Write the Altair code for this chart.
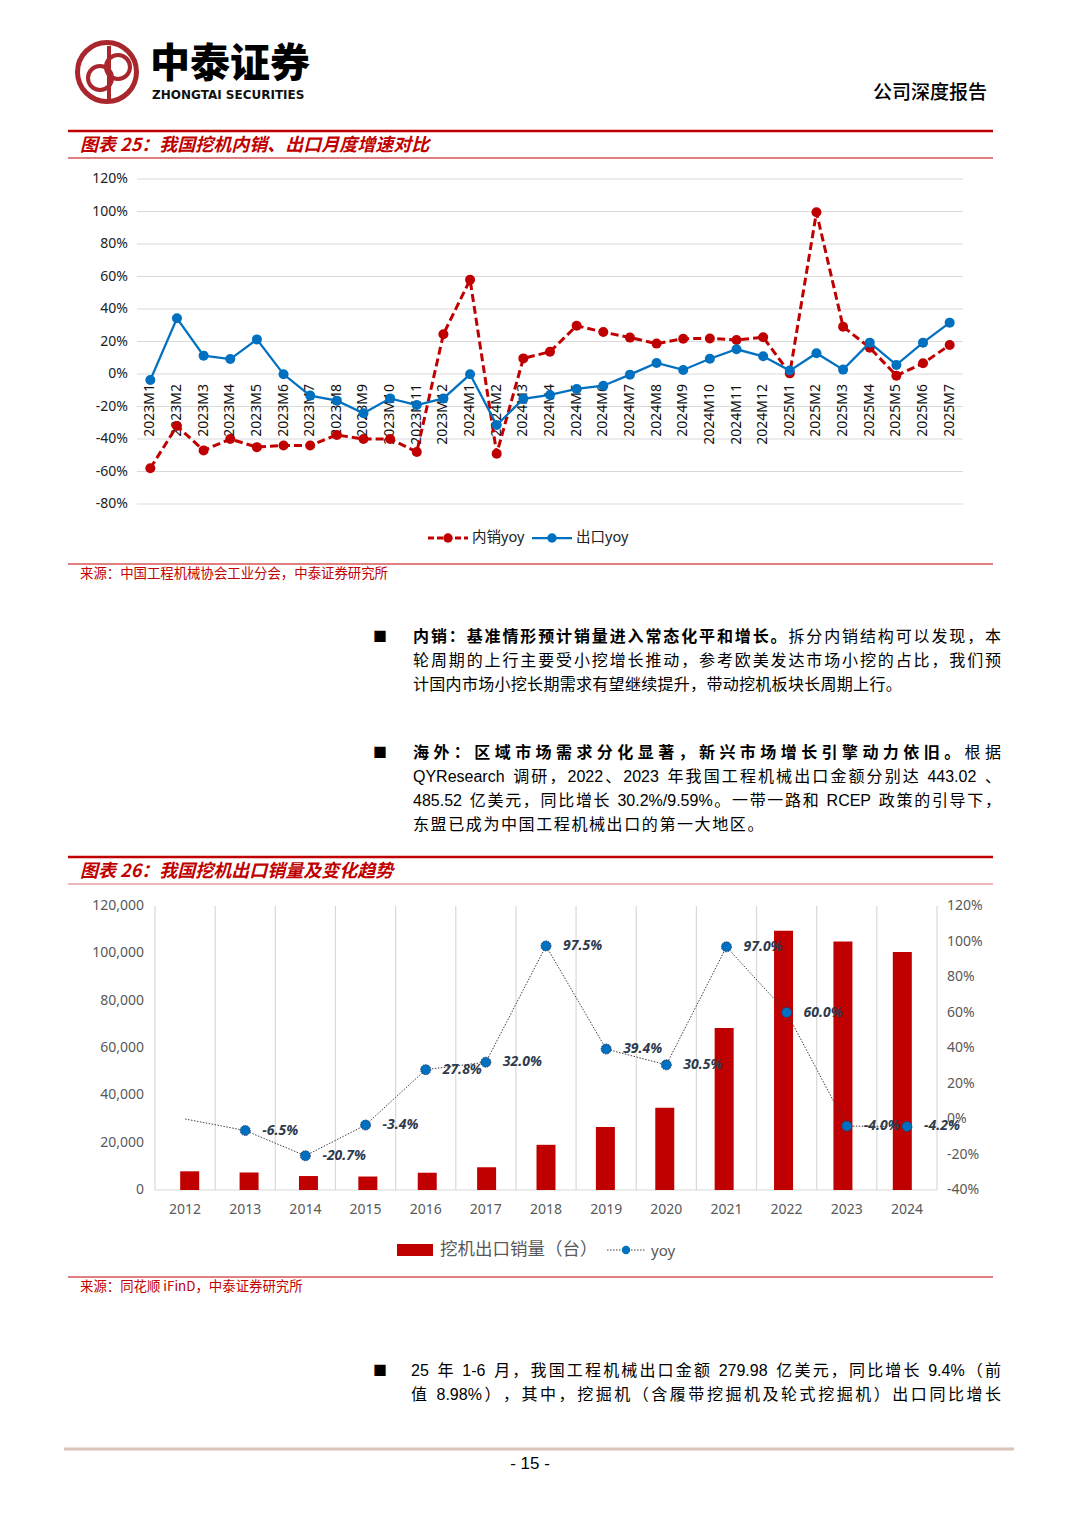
import altair as alt
import pandas as pd

OFF = 8


def p(v):
    return v - OFF


# ---------------- data ----------------
months = ["2023M1", "2023M2", "2023M3", "2023M4", "2023M5", "2023M6", "2023M7", "2023M8",
          "2023M9", "2023M10", "2023M11", "2023M12", "2024M1", "2024M2", "2024M3", "2024M4",
          "2024M5", "2024M6", "2024M7", "2024M8", "2024M9", "2024M10", "2024M11", "2024M12",
          "2025M1", "2025M2", "2025M3", "2025M4", "2025M5", "2025M6", "2025M7"]
domestic_yoy = [-58.0, -32.0, -47.0, -40.0, -45.0, -44.0, -44.0, -37.5, -40.0, -40.0, -48.0, 24.5,
                58.0, -49.0, 9.6, 13.7, 29.7, 25.8, 22.4, 18.7, 21.7, 21.9, 20.9, 22.6,
                0.4, 99.5, 29.1, 16.2, -1.0, 6.6, 17.8]
export_yoy = [-3.7, 34.3, 11.3, 9.2, 21.3, -0.2, -13.3, -16.4, -24.2, -15.0, -19.1, -15.0,
              -0.2, -31.4, -15.3, -12.9, -9.2, -7.2, -0.4, 6.8, 2.5, 9.4, 15.2, 10.9,
              2.1, 12.8, 2.7, 19.3, 5.6, 19.3, 31.6]
y1_ticks = [-80, -60, -40, -20, 0, 20, 40, 60, 80, 100, 120]

years = ["2012", "2013", "2014", "2015", "2016", "2017", "2018", "2019", "2020", "2021", "2022", "2023", "2024"]
export_units = [7900, 7400, 5900, 5700, 7300, 9600, 19100, 26600, 34800, 68500, 109500, 105000, 100600]
export_growth = [0.0, -6.5, -20.7, -3.4, 27.8, 32.0, 97.5, 39.4, 30.5, 97.0, 60.0, -4.0, -4.2]
y2_left_ticks = [0, 20000, 40000, 60000, 80000, 100000, 120000]
y2_right_ticks = [-40, -20, 0, 20, 40, 60, 80, 100, 120]

# ---------------- styles ----------------
RED = "#c00000"
BLUE = "#0070c0"
CJK = "Noto Sans CJK SC"
BODY_FONT = "Liberation Sans, Noto Sans CJK SC"
CHART_FONT = "Noto Sans, Noto Sans CJK SC"

one = pd.DataFrame({"k": [0]})
layers = []


def hline(x0, x1, y, color, width, dash=None):
    kw = dict(color=color, strokeWidth=width)
    if dash:
        kw["strokeDash"] = dash
    return alt.Chart(one).mark_rule(**kw).encode(
        x=alt.value(p(x0)), x2=alt.value(p(x1)), y=alt.value(p(y)))


def label(txt, x, y, size, color="#000000", font=CJK, weight="normal", italic=False,
          align="left", baseline="middle"):
    kw = dict(text=txt, fontSize=size, color=color, font=font, fontWeight=weight,
              align=align, baseline=baseline)
    if italic:
        kw["fontStyle"] = "italic"
    return alt.Chart(one).mark_text(**kw).encode(x=alt.value(p(x)), y=alt.value(p(y)))


def dot(x, y, color, size, filled=True, stroke_w=1.0):
    if filled:
        return alt.Chart(one).mark_circle(color=color, size=size, opacity=1).encode(
            x=alt.value(p(x)), y=alt.value(p(y)))
    return alt.Chart(one).mark_point(shape="circle", filled=False, color=color, size=size,
                                     strokeWidth=stroke_w, opacity=1).encode(
        x=alt.value(p(x)), y=alt.value(p(y)))


# ---------------- header ----------------
LOGO = "#a8262c"
layers.append(dot(107, 72, LOGO, 59 * 59, filled=False, stroke_w=5))
layers.append(dot(118, 67, LOGO, 24 * 24, filled=False, stroke_w=4))
layers.append(dot(100, 78, LOGO, 24 * 24, filled=False, stroke_w=4))
layers.append(alt.Chart(one).mark_rule(color=LOGO, strokeWidth=4).encode(
    x=alt.value(p(109)), y=alt.value(p(46)), y2=alt.value(p(100))))
layers.append(label("中泰证券", 150, 65, 40, "#000000", CJK, 900))
layers.append(label("ZHONGTAI SECURITIES", 152, 94.5, 12, "#111111", "DejaVu Sans", "bold"))
layers.append(label("公司深度报告", 873, 93, 19, "#000000", CJK, 500))

# section 1 title
layers.append(hline(68, 993, 131, RED, 2.5))
layers.append(label("图表 25：我国挖机内销、出口月度增速对比", 80, 146, 18, RED, CJK, "bold", True))
layers.append(hline(68, 993, 158, RED, 1))

# ---------------- chart 1 ----------------
X1 = alt.Scale(domain=[-0.5, 30.5], range=[p(137), p(963)])
Y1 = alt.Scale(domain=[-80, 120], range=[p(504), p(179)])
df1 = pd.DataFrame({"idx": list(range(len(months))), "m": months,
                    "dom": domestic_yoy, "exp": export_yoy})
dft1 = pd.DataFrame({"v": y1_ticks, "t": [f"{v}%" for v in y1_ticks]})

layers.append(alt.Chart(dft1).mark_rule(color="#d9d9d9", strokeWidth=1).encode(
    y=alt.Y("v:Q", scale=Y1, axis=None), x=alt.value(p(137)), x2=alt.value(p(963))))
layers.append(alt.Chart(dft1).mark_text(align="right", baseline="middle", fontSize=14,
                                        font=CHART_FONT, color="#222222").encode(
    y=alt.Y("v:Q", scale=Y1, axis=None), x=alt.value(p(128)), text="t:N"))
layers.append(alt.Chart(df1).mark_text(angle=270, align="right", baseline="middle", fontSize=14,
                                       font=CHART_FONT, color="#111111").encode(
    x=alt.X("idx:Q", scale=X1, axis=None), y=alt.value(p(384)), text="m:N"))
layers.append(alt.Chart(df1).mark_line(color=RED, strokeWidth=3, strokeDash=[8, 4]).encode(
    x=alt.X("idx:Q", scale=X1, axis=None), y=alt.Y("dom:Q", scale=Y1, axis=None)))
layers.append(alt.Chart(df1).mark_circle(color=RED, size=100, opacity=1).encode(
    x=alt.X("idx:Q", scale=X1, axis=None), y=alt.Y("dom:Q", scale=Y1, axis=None)))
layers.append(alt.Chart(df1).mark_line(color=BLUE, strokeWidth=2.25).encode(
    x=alt.X("idx:Q", scale=X1, axis=None), y=alt.Y("exp:Q", scale=Y1, axis=None)))
layers.append(alt.Chart(df1).mark_circle(color=BLUE, size=100, opacity=1).encode(
    x=alt.X("idx:Q", scale=X1, axis=None), y=alt.Y("exp:Q", scale=Y1, axis=None)))

# legend 1
layers.append(hline(428, 468, 538, RED, 3, [6, 3]))
layers.append(dot(448, 538, RED, 90))
layers.append(label("内销yoy", 472, 538, 14.5, "#222222", CHART_FONT))
layers.append(hline(532, 572, 538, BLUE, 2.25))
layers.append(dot(552, 538, BLUE, 90))
layers.append(label("出口yoy", 576, 538, 14.5, "#222222", CHART_FONT))

# source 1
layers.append(hline(68, 993, 564, RED, 1))
layers.append(label("来源：中国工程机械协会工业分会，中泰证券研究所", 80, 574, 13.4, RED, CJK))

# ---------------- body text ----------------
ARIAL = {" ": 0.278, ".": 0.278, ",": 0.278, "%": 0.889, "/": 0.278, "-": 0.333,
         "Q": 0.778, "Y": 0.667, "R": 0.722, "e": 0.556, "s": 0.5, "a": 0.556, "r": 0.333,
         "c": 0.5, "h": 0.556, "C": 0.722, "E": 0.667, "P": 0.667}


def cw(ch, size):
    if ord(ch) > 0x2E80:
        return size
    return ARIAL.get(ch, 0.556) * size


def tokens(segs):
    out = []
    for text, bold in segs:
        run = ""
        for ch in text:
            if ord(ch) > 0x2E80 or ch == " ":
                if run:
                    out.append((run, bold))
                    run = ""
                out.append((ch, bold))
            else:
                run += ch
        if run:
            out.append((run, bold))
    return out


def layout(segs, x0, y, x1=None, extra=0.0, size=16):
    toks = tokens(segs)
    widths = [sum(cw(c, size) for c in t) for t, _ in toks]
    if x1 is not None and len(toks) > 1:
        extra = (x1 - x0 - sum(widths)) / (len(toks) - 1)
    rows = []
    x = x0
    for (t, b), w in zip(toks, widths):
        if t.strip():
            rows.append({"x": p(x), "y": p(y), "t": t, "b": b})
        x += w + extra
    return rows


body = []
body += layout([("内销：基准情形预计销量进入常态化平和增长。", True), ("拆分内销结构可以发现，本", False)], 413, 637, 1001)
body += layout([("轮周期的上行主要受小挖增长推动，参考欧美发达市场小挖的占比，我们预", False)], 413, 661, 1001)
body += layout([("计国内市场小挖长期需求有望继续提升，带动挖机板块长周期上行。", False)], 413, 685, None, 0.3)
body += layout([("海外：区域市场需求分化显著，新兴市场增长引擎动力依旧。", True), ("根据", False)], 413, 753, 1001)
body += layout([("QYResearch 调研，2022、2023 年我国工程机械出口金额分别达 443.02 、", False)], 413, 777, 1001)
body += layout([("485.52 亿美元，同比增长 30.2%/9.59%。一带一路和 RCEP 政策的引导下，", False)], 413, 801, 1001)
body += layout([("东盟已成为中国工程机械出口的第一大地区。", False)], 413, 825, None, 1.6)
body += layout([("25 年 1-6 月，我国工程机械出口金额 279.98 亿美元，同比增长 9.4%（前", False)], 411, 1371, 1001)
body += layout([("值 8.98%），其中，挖掘机（含履带挖掘机及轮式挖掘机）出口同比增长", False)], 411, 1395, 1001)
body_df = pd.DataFrame(body)

for is_bold in (False, True):
    sub = body_df[body_df["b"] == is_bold]
    layers.append(alt.Chart(sub).mark_text(align="left", baseline="middle", fontSize=16,
                                           font=BODY_FONT, color="#000000",
                                           fontWeight="bold" if is_bold else "normal").encode(
        x=alt.X("x:Q", scale=None, axis=None), y=alt.Y("y:Q", scale=None, axis=None), text="t:N"))

for by in (637, 753, 1371):
    layers.append(label("■", 380, by, 14, "#000000", CJK, align="center"))

# section 2 title
layers.append(hline(68, 993, 857, RED, 2.5))
layers.append(label("图表 26：我国挖机出口销量及变化趋势", 80, 872, 18, RED, CJK, "bold", True))
layers.append(hline(68, 993, 884, "#e07070", 1))

# ---------------- chart 2 ----------------
X2 = alt.Scale(domain=[-0.5, 12.5], range=[p(155), p(937)])
YL = alt.Scale(domain=[0, 120000], range=[p(1190), p(906)])
YR = alt.Scale(domain=[-40, 120], range=[p(1190), p(906)])
df2 = pd.DataFrame({"idx": list(range(len(years))), "year": years, "units": export_units,
                    "g": export_growth, "lab": [f"{v:.1f}%" for v in export_growth]})
bounds = pd.DataFrame({"b": [i - 0.5 for i in range(len(years) + 1)]})
dfl = pd.DataFrame({"v": y2_left_ticks, "t": [f"{v:,}" for v in y2_left_ticks]})
dfr = pd.DataFrame({"v": y2_right_ticks, "t": [f"{v}%" for v in y2_right_ticks]})
GRAY = "#595959"

layers.append(alt.Chart(bounds).mark_rule(color="#d9d9d9", strokeWidth=1.2).encode(
    x=alt.X("b:Q", scale=X2, axis=None), y=alt.value(p(906)), y2=alt.value(p(1190))))
layers.append(hline(155, 937, 1190, "#d9d9d9", 1.2))
layers.append(alt.Chart(dfl).mark_text(align="right", baseline="middle", fontSize=14,
                                       font=CHART_FONT, color=GRAY).encode(
    y=alt.Y("v:Q", scale=YL, axis=None), x=alt.value(p(144)), text="t:N"))
layers.append(alt.Chart(dfr).mark_text(align="left", baseline="middle", fontSize=14,
                                       font=CHART_FONT, color=GRAY).encode(
    y=alt.Y("v:Q", scale=YR, axis=None), x=alt.value(p(947)), text="t:N"))
layers.append(alt.Chart(df2).mark_text(align="center", baseline="middle", fontSize=14,
                                       font=CHART_FONT, color=GRAY).encode(
    x=alt.X("idx:Q", scale=X2, axis=None), y=alt.value(p(1210)), text="year:N"))
layers.append(alt.Chart(df2).mark_bar(color=RED, size=19, orient="vertical").encode(
    x=alt.X("idx:Q", scale=X2, axis=None), y=alt.Y("units:Q", scale=YL, axis=None),
    y2=alt.datum(0)))
layers.append(alt.Chart(df2).mark_line(color="#404040", strokeWidth=1, strokeDash=[1.5, 1.5]).encode(
    x=alt.X("idx:Q", scale=X2, axis=None), y=alt.Y("g:Q", scale=YR, axis=None)))
layers.append(alt.Chart(df2).transform_filter("datum.idx > 0").mark_point(
    shape="circle", filled=True, color=BLUE, stroke="#203864", strokeWidth=1,
    strokeDash=[1.5, 1], size=100, opacity=1).encode(
    x=alt.X("idx:Q", scale=X2, axis=None), y=alt.Y("g:Q", scale=YR, axis=None)))
layers.append(alt.Chart(df2).transform_filter("datum.idx > 0").mark_text(
    dx=17, align="left", baseline="middle", fontSize=14, fontWeight="bold", fontStyle="italic",
    font=CHART_FONT, color="#2f3b4c").encode(
    x=alt.X("idx:Q", scale=X2, axis=None), y=alt.Y("g:Q", scale=YR, axis=None), text="lab:N"))

# legend 2
layers.append(alt.Chart(one).mark_rect(color=RED).encode(
    x=alt.value(p(397)), x2=alt.value(p(433)), y=alt.value(p(1244)), y2=alt.value(p(1256))))
layers.append(label("挖机出口销量（台）", 440, 1250, 17.5, GRAY, CJK))
layers.append(hline(607, 645, 1250, "#404040", 1, [1.5, 1.5]))
layers.append(dot(626, 1250, BLUE, 70))
layers.append(label("yoy", 651, 1251, 15, GRAY, CHART_FONT))

# source 2
layers.append(hline(68, 993, 1277, RED, 1))
layers.append(label("来源：同花顺 iFinD，中泰证券研究所", 80, 1287, 13.4, RED, CJK))

# footer
layers.append(hline(64, 1014, 1449, "#dcc5b8", 3))
layers.append(label("- 15 -", 530, 1464, 17, "#000000", "Liberation Sans", align="center"))

chart = alt.layer(*layers).resolve_scale(x="independent", y="independent").properties(
    width=1064, height=1511, padding=0,
    autosize=alt.AutoSizeParams(type="none"), background="white"
).configure_view(stroke=None)

chart.save("out.html", embed_options={"renderer": "svg", "actions": False})
